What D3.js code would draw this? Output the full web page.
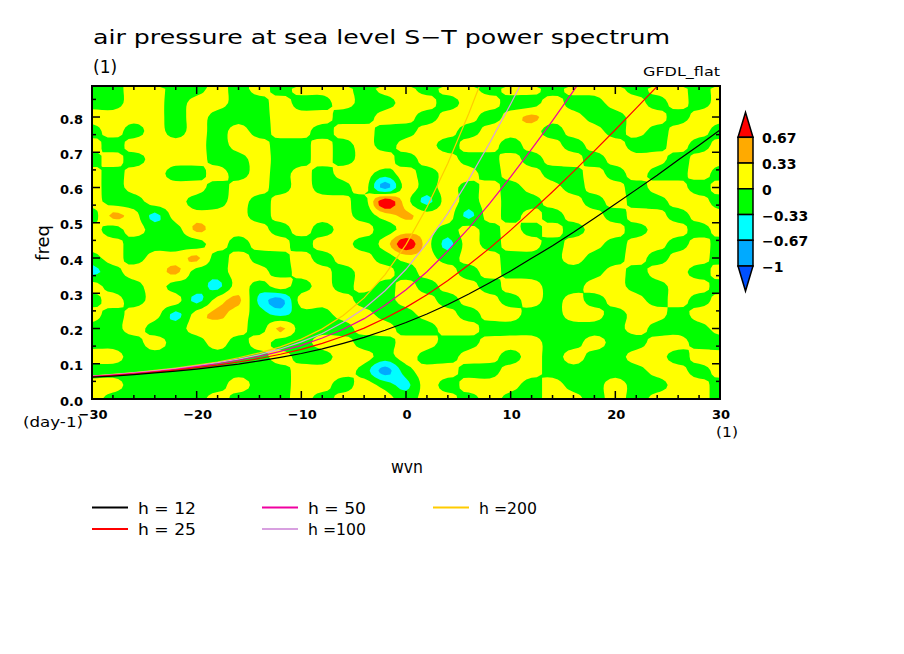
<!DOCTYPE html>
<html><head><meta charset="utf-8">
<script src="https://cdn.jsdelivr.net/npm/d3@7"></script>
<style>body{margin:0;background:#fff}svg{display:block}text{font-family:"DejaVu Sans",sans-serif;fill:#000}</style>
</head><body><svg id="c" width="904" height="654"></svg>
<script>
// ---------- data ----------
const wvnGrid = [-30,-28,-26,-24,-22,-20,-18,-16,-14,-12,-10,-8,-6,-4,-2,0,2,4,6,8,10,12,14,16,18,20,22,24,26,28,30];
const freqGrid = [0.88,0.84,0.80,0.76,0.72,0.68,0.64,0.60,0.56,0.52,0.48,0.44,0.40,0.36,0.32,0.28,0.24,0.20,0.16,0.12,0.08,0.04,0.00];
// one string per freq row (top to bottom), one letter per wavenumber column
// g: -0.33..0   y: 0..0.33   o: 0.33..0.67   r: >0.67   c: -0.67..-0.33   b: -1..-0.67
const fieldRows = [
  "ggyyggygygy"+"yygyygyygy"+"ygyyygyygy",
  "ggyygyyggyg"+"gyggyygyyg"+"gyggyygygy",
  "yyyygygggyy"+"yggyygyygy"+"oyyggyygyy",
  "gygygygygyy"+"gyyggyygyy"+"ygyygygyyg",
  "ygyyyygyygg"+"ygygyygyyg"+"yygyyggygy",
  "gygyyyggygg"+"ygyygyyggy"+"gyygyyygyy",
  "ygyyggygygy"+"gyygygyygy"+"yggygyggyg",
  "ygyyyygyygy"+"ggybygygyg"+"yygyygyygy",
  "yggyyggygyy"+"yygrycygyg"+"gyygyggyyg",
  "goycyyyygyy"+"yygyoyycyg"+"ygyygyygyy",
  "ygyggoyyygy"+"gyygyygygy"+"gygyygyygy",
  "yyggggygyyg"+"yygyrycygy"+"ygyygyygyg",
  "gygyyogyggy"+"gyygyygyyg"+"ggyggygyyg",
  "cgyyoggyygy"+"ygyygyygyg"+"ggggygyygy",
  "yggyggcygyg"+"ygygygyygy"+"yggyyggyyg",
  "gygyycyocby"+"yyggyygyyg"+"ygygyygygy",
  "ygyycyoygcg"+"gyyggyygyy"+"ggyygyygyy",
  "ggyggyyygog"+"ggyyggyygg"+"gggggygggy",
  "gggyggygygg"+"yyggyyggyy"+"yggyggyygg",
  "yygggggggyg"+"gyygyggyyg"+"ygyggyygyy",
  "ggggggggggy"+"yygbgyyggy"+"ygggggyygy",
  "yygggggyggy"+"ygygcygyyy"+"gyggyggyyg",
  "ygggggygggy"+"gyyygyygyg"+"gyygygyyyg"
];
const codeValue = {g:-0.15, y:0.15, o:0.40, r:0.95, c:-0.42, b:-0.8};
const levels = [-1,-0.67,-0.33,0,0.33,0.67];
const levelColors = ["#0050ff","#00aaff","#00ffff","#00ff00","#ffff00","#ffaa00","#ff0000"];
const colorbarLabels = ["0.67","0.33","0","\u22120.33","\u22120.67","\u22121"];

// dispersion curves (freq in day-1 at each wavenumber of curveWvn)
const curveWvn = wvnGrid;
const h12  = [0.062,0.065,0.069,0.074,0.079,0.085,0.092,0.099,0.108,0.118,0.129,0.142,0.158,0.175,0.195,0.217,0.241,0.268,0.298,0.330,0.363,0.399,0.435,0.473,0.513,0.553,0.594,0.635,0.678,0.720,0.763];
const h25  = [0.063,0.067,0.071,0.076,0.082,0.089,0.096,0.105,0.115,0.127,0.141,0.158,0.178,0.201,0.229,0.260,0.296,0.336,0.381,0.428,0.479,0.533,0.588,0.645,0.704,0.764,0.825,0.887,0.950,null,null];
const h50  = [0.064,0.068,0.073,0.078,0.084,0.092,0.100,0.110,0.121,0.135,0.152,0.173,0.198,0.228,0.266,0.310,0.361,0.420,0.485,0.555,0.630,0.709,0.790,0.874,0.960,null,null,null,null,null,null];
const h100 = [0.065,0.069,0.074,0.080,0.086,0.094,0.103,0.113,0.126,0.142,0.162,0.186,0.218,0.257,0.307,0.368,0.442,0.527,0.623,0.727,0.837,0.953,null,null,null,null,null,null,null,null,null];
const h200 = [0.065,0.070,0.075,0.081,0.088,0.096,0.105,0.117,0.131,0.148,0.170,0.199,0.237,0.287,0.353,0.438,0.544,0.669,0.810,0.963,null,null,null,null,null,null,null,null,null,null,null];
const curveNames  = ["h = 12","h = 25","h = 50","h =100","h =200"];
const curveColors = ["#000000","#ff0000","#f000a0","#d8a0e0","#ffcc00"];
const curveValues = [h12,h25,h50,h100,h200];

const xTicks = [-30,-20,-10,0,10,20,30];
const xTickLabels = ["\u221230","\u221220","\u221210","0","10","20","30"];
const xMinor = [-28,-26,-24,-22,-18,-16,-14,-12,-8,-6,-4,-2,2,4,6,8,12,14,16,18,22,24,26,28];
const yTicks = [0,0.1,0.2,0.3,0.4,0.5,0.6,0.7,0.8];
const yTickLabels = ["0.0","0.1","0.2","0.3","0.4","0.5","0.6","0.7","0.8"];
const yMinor = [0.05,0.15,0.25,0.35,0.45,0.55,0.65,0.75,0.85];

// ---------- drawing ----------
const svg = d3.select("#c");
const L=92, R=720, T=86, B=399;
const x = d3.scaleLinear([-30,30],[L,R]);
const y = d3.scaleLinear([0,0.888],[B,T]);

svg.append("rect").attr("width",904).attr("height",654).attr("fill","#fff");
svg.append("defs").append("clipPath").attr("id","plot")
  .append("rect").attr("x",L).attr("y",T).attr("width",R-L).attr("height",B-T);

// field grid, resampled smoothly for shading
const nx = wvnGrid.length, ny = freqGrid.length, K = 4;
const values = [];
fieldRows.forEach(r => { for (let i=0;i<nx;i++) values.push(codeValue[r[i]]); });
const cl = (v,a,b)=>Math.max(a,Math.min(b,v));
const cr = (p0,p1,p2,p3,t)=>0.5*(2*p1+(-p0+p2)*t+(2*p0-5*p1+4*p2-p3)*t*t+(-p0+3*p1-3*p2+p3)*t*t*t);
const NX=(nx-1)*K+1, NY=(ny-1)*K+1;
const get=(i,j)=>values[cl(j,0,ny-1)*nx+cl(i,0,nx-1)];
const tmp=new Float64Array(ny*NX);
for (let j=0;j<ny;j++) for (let I=0;I<NX;I++){
  let u=I/K, i=Math.floor(u), t=u-i; if(i>=nx-1){i=nx-2;t=1;}
  tmp[j*NX+I]=cr(get(i-1,j),get(i,j),get(i+1,j),get(i+2,j),t);
}
const gt=(I,j)=>tmp[cl(j,0,ny-1)*NX+I];
const fine=new Array(NX*NY);
for (let J=0;J<NY;J++){
  let v=J/K, j=Math.floor(v), t=v-j; if(j>=ny-1){j=ny-2;t=1;}
  for (let I=0;I<NX;I++) fine[J*NX+I]=cr(gt(I,j-1),gt(I,j),gt(I,j+1),gt(I,j+2),t);
}
const dw = wvnGrid[1]-wvnGrid[0], df = freqGrid[1]-freqGrid[0];
const proj = d3.geoTransform({point(X,Y){
  this.stream.point(x(wvnGrid[0]+((X-0.5)/K)*dw), y(freqGrid[0]+((Y-0.5)/K)*df));
}});
const path = d3.geoPath(proj);
const gField = svg.append("g").attr("clip-path","url(#plot)");
gField.append("rect").attr("x",L).attr("y",T).attr("width",R-L).attr("height",B-T).attr("fill",levelColors[3]);
const cont = d3.contours().size([NX,NY]).thresholds(levels)(fine);
gField.selectAll("path.c").data(cont).join("path").attr("class","c")
  .attr("d",path).attr("fill",(d,i)=>levelColors[i+1]).attr("stroke","none");

// curves
const gCurves = svg.append("g").attr("clip-path","url(#plot)");
const line = d3.line().defined(d=>d[1]!=null).x(d=>x(d[0])).y(d=>y(d[1]));
[4,3,2,1,0].forEach(k=>{
  gCurves.append("path").attr("d",line(curveWvn.map((w,i)=>[w,curveValues[k][i]])))
    .attr("fill","none").attr("stroke",curveColors[k]).attr("stroke-width",1.2);
});

// frame & ticks
const gAx = svg.append("g").attr("stroke","#000");
gAx.append("rect").attr("x",L).attr("y",T).attr("width",R-L).attr("height",B-T)
  .attr("fill","none").attr("stroke-width",2);
const tk = (arr,len)=>arr.forEach(v=>{
  gAx.append("line").attr("x1",x(v)).attr("x2",x(v)).attr("y1",B).attr("y2",B-len).attr("stroke-width",1.5);
  gAx.append("line").attr("x1",x(v)).attr("x2",x(v)).attr("y1",T).attr("y2",T+len).attr("stroke-width",1.5);
});
tk(xTicks,8); tk(xMinor,4);
const tky = (arr,len)=>arr.forEach(v=>{
  gAx.append("line").attr("y1",y(v)).attr("y2",y(v)).attr("x1",L).attr("x2",L+len).attr("stroke-width",1.5);
  gAx.append("line").attr("y1",y(v)).attr("y2",y(v)).attr("x1",R).attr("x2",R-len).attr("stroke-width",1.5);
});
tky(yTicks,8); tky(yMinor,4);

svg.selectAll("text.xt").data(xTicks).join("text").attr("class","xt")
  .attr("x",d=>x(d)+1).attr("y",419).attr("text-anchor","middle")
  .attr("font-size",13).attr("font-weight","bold").text((d,i)=>xTickLabels[i]);
svg.selectAll("text.yt").data(yTicks).join("text").attr("class","yt")
  .attr("x",83).attr("y",d=>y(d)+6.5).attr("text-anchor","end")
  .attr("font-size",13).attr("font-weight","bold").text((d,i)=>yTickLabels[i]);

// titles
svg.append("text").attr("x",93).attr("y",44).attr("font-size",20)
  .attr("textLength",577).attr("lengthAdjust","spacingAndGlyphs")
  .text("air pressure at sea level S\u2212T power spectrum");
svg.append("text").attr("x",93).attr("y",73).attr("font-size",17).text("(1)");
svg.append("text").attr("x",720).attr("y",76).attr("font-size",13).attr("text-anchor","end")
  .attr("textLength",77).attr("lengthAdjust","spacingAndGlyphs").text("GFDL_flat");
svg.append("text").attr("x",23).attr("y",427).attr("font-size",14)
  .attr("textLength",60).attr("lengthAdjust","spacingAndGlyphs").text("(day-1)");
svg.append("text").attr("x",716).attr("y",437).attr("font-size",14)
  .attr("textLength",22).attr("lengthAdjust","spacingAndGlyphs").text("(1)");
svg.append("text").attr("x",407).attr("y",473).attr("font-size",17).attr("text-anchor","middle")
  .attr("textLength",32).attr("lengthAdjust","spacingAndGlyphs").text("wvn");
svg.append("text").attr("transform","translate(49,243) rotate(-90)").attr("font-size",18)
  .attr("text-anchor","middle").text("freq");

// colorbar
const cbX=738, cbW=15, cbTop=137.3, cbH=25.75;
const gCb = svg.append("g");
gCb.append("path").attr("d",`M${cbX},${cbTop} L${cbX+cbW/2},${cbTop-25} L${cbX+cbW},${cbTop} Z`)
  .attr("fill",levelColors[6]).attr("stroke","#000").attr("stroke-width",1.5);
for (let i=0;i<5;i++){
  gCb.append("rect").attr("x",cbX).attr("y",cbTop+i*cbH).attr("width",cbW).attr("height",cbH)
    .attr("fill",levelColors[5-i]).attr("stroke","#000").attr("stroke-width",1.5);
}
const cbBot = cbTop+5*cbH;
gCb.append("path").attr("d",`M${cbX},${cbBot} L${cbX+cbW/2},${cbBot+25} L${cbX+cbW},${cbBot} Z`)
  .attr("fill",levelColors[0]).attr("stroke","#000").attr("stroke-width",1.5);
colorbarLabels.forEach((t,i)=>{
  gCb.append("text").attr("x",762).attr("y",cbTop+i*cbH+6).attr("font-size",14)
    .attr("font-weight","bold").text(t);
});

// legend
const legCols=[92,262,433], legRows=[507.5,529];
const legPos=[[0,0],[0,1],[1,0],[1,1],[2,0]];
curveNames.forEach((n,k)=>{
  const cx=legCols[legPos[k][0]], cy=legRows[legPos[k][1]];
  svg.append("line").attr("x1",cx).attr("x2",cx+36).attr("y1",cy).attr("y2",cy)
    .attr("stroke",curveColors[k]).attr("stroke-width",2);
  svg.append("text").attr("x",cx+46).attr("y",cy+6).attr("font-size",15)
    .attr("textLength",58).attr("lengthAdjust","spacingAndGlyphs").text(n);
});
</script></body></html>
